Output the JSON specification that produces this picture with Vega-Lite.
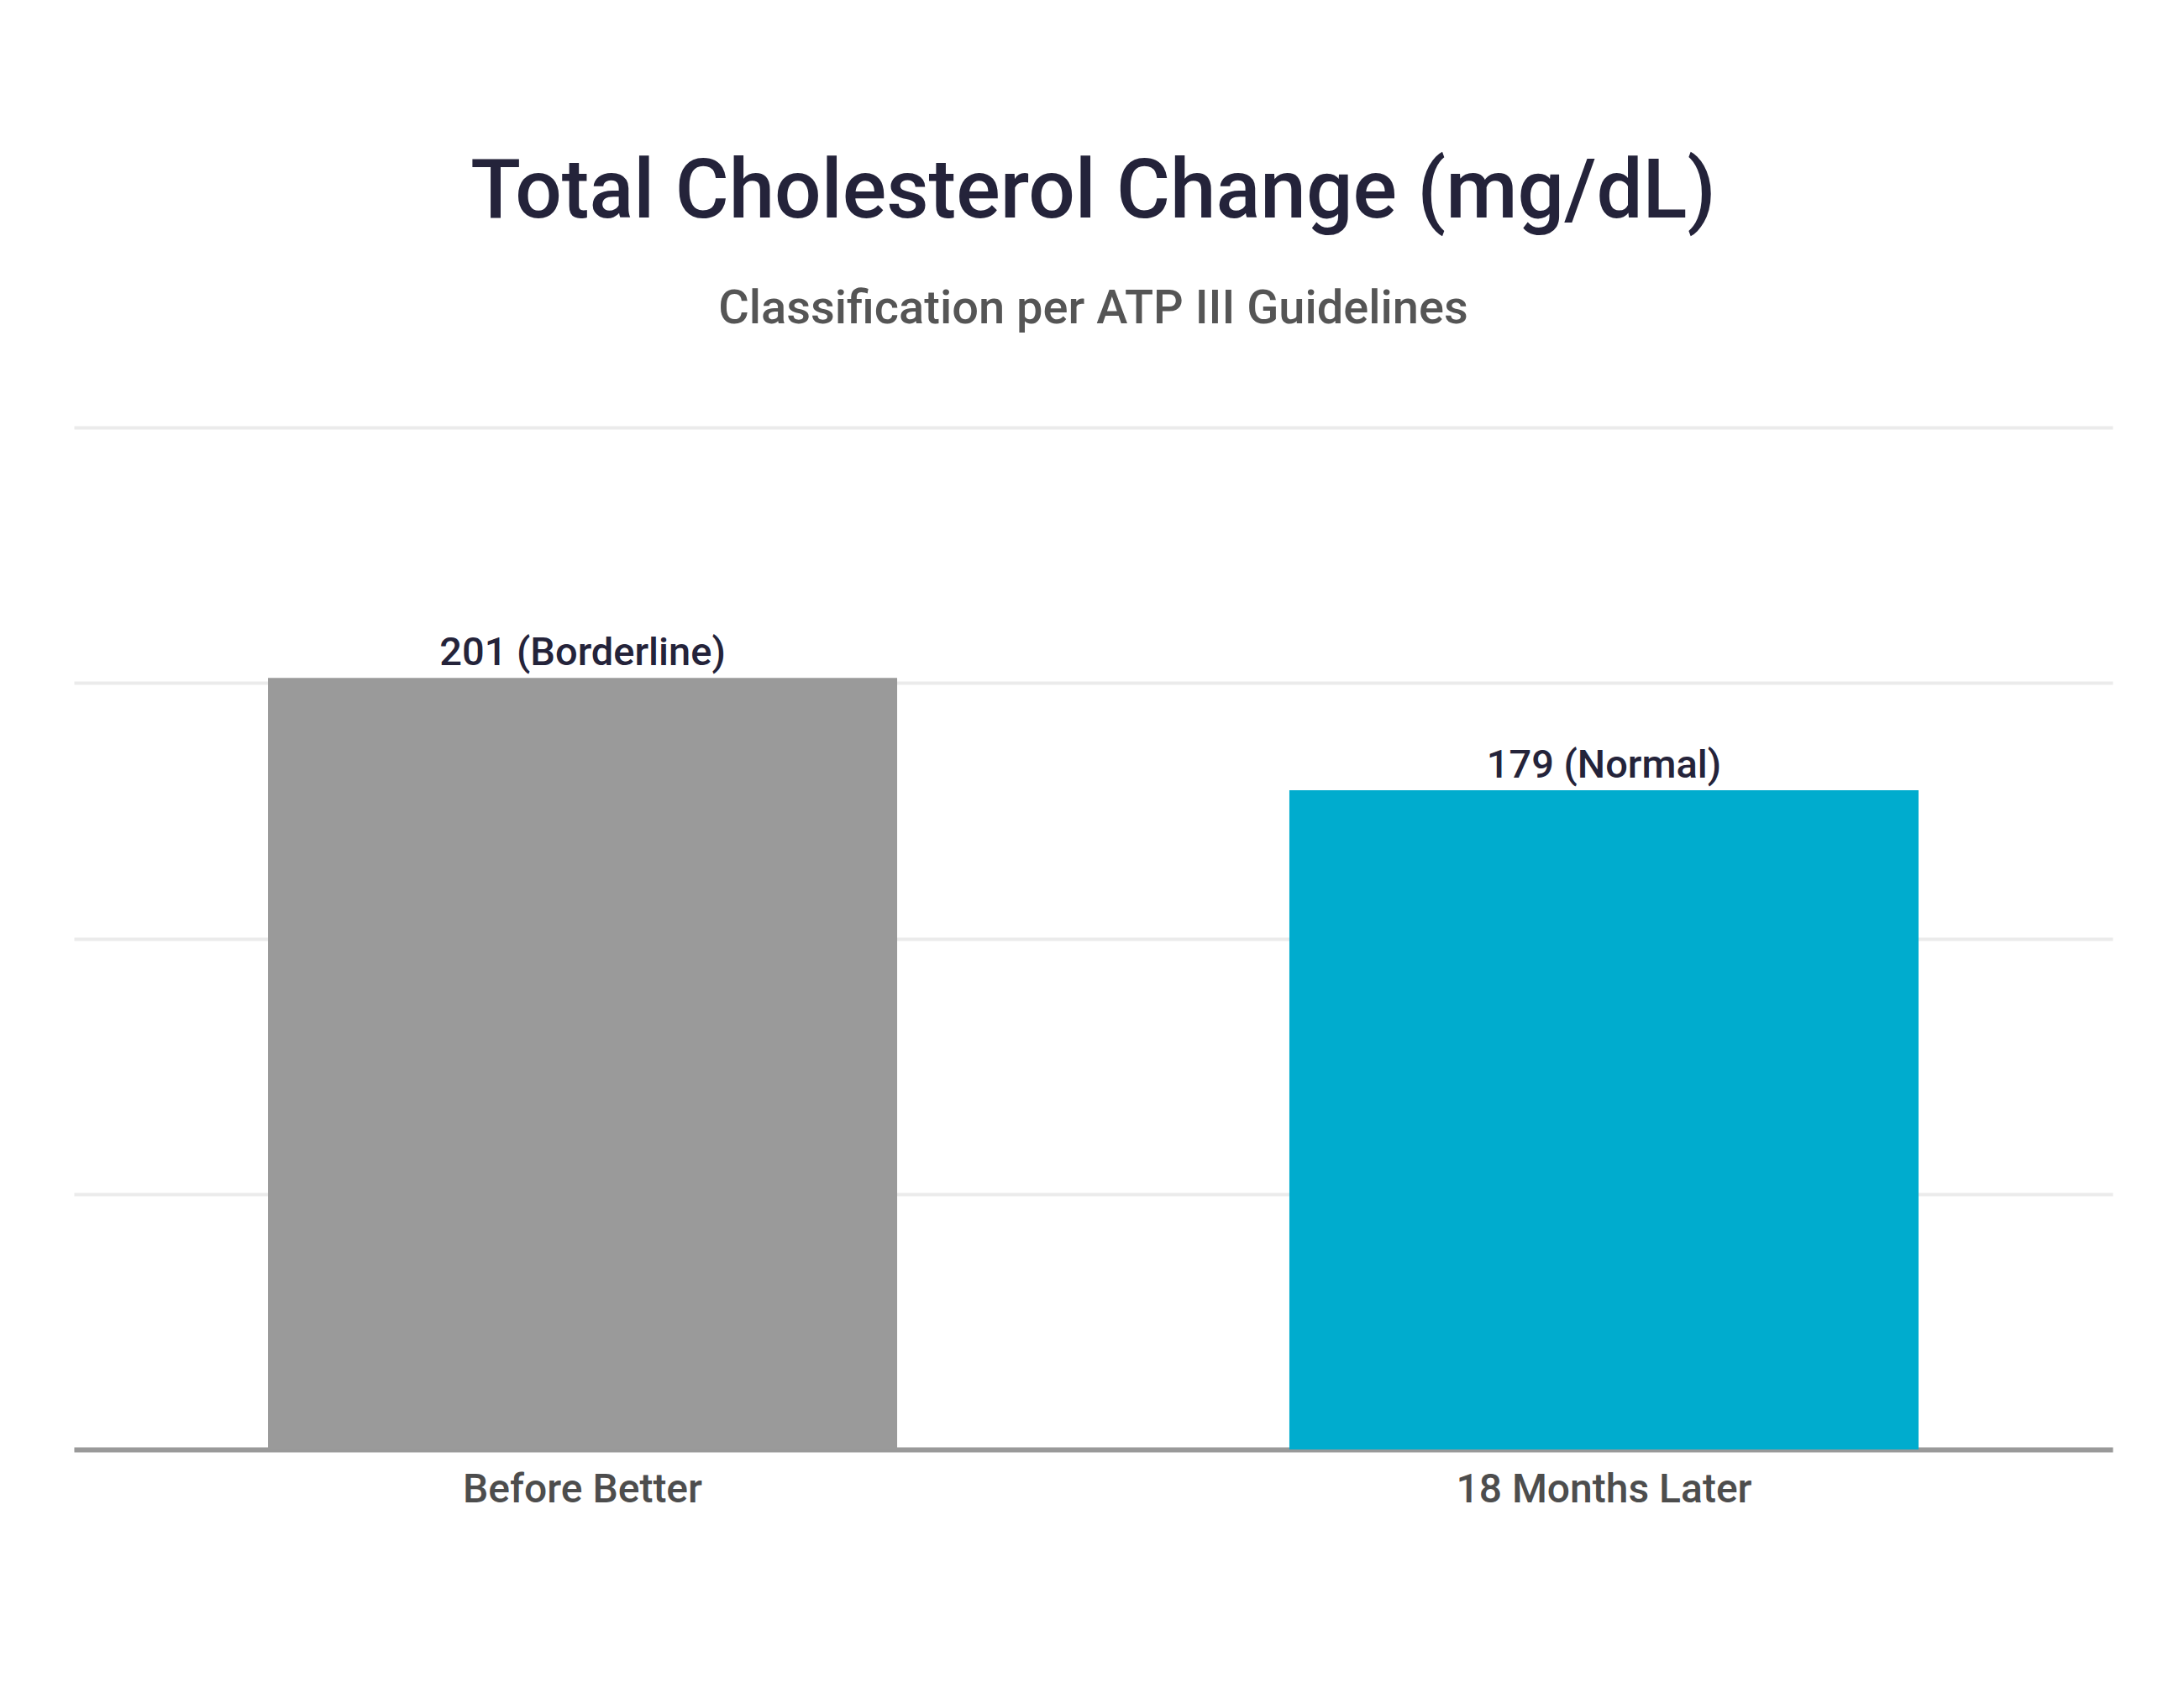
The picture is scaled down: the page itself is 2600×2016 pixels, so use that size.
{
  "$schema": "https://vega.github.io/schema/vega-lite/v6.json",
  "width": 2427,
  "height": 1217,
  "autosize": {"type": "none"},
  "padding": {"top": 509, "left": 88, "right": 85, "bottom": 290},
  "background": "#ffffff",
  "title": {
    "text": "Total Cholesterol Change (mg/dL)",
    "subtitle": "Classification per ATP III Guidelines",
    "anchor": "middle",
    "frame": "group",
    "font": "Roboto",
    "fontSize": 98,
    "fontWeight": 500,
    "color": "#24233a",
    "subtitleFont": "Roboto",
    "subtitleFontSize": 56,
    "subtitleFontWeight": 500,
    "subtitleColor": "#555555",
    "subtitlePadding": 61,
    "offset": 112
  },
  "data": {
    "values": [
      {"period": "Before Better", "value": 201, "label": "201 (Borderline)", "color": "#9a9a9a"},
      {"period": "18 Months Later", "value": 179, "label": "179 (Normal)", "color": "#00acce"}
    ]
  },
  "encoding": {
    "x": {
      "field": "period",
      "type": "nominal",
      "sort": null,
      "scale": {"paddingInner": 0.384, "paddingOuter": 0.19},
      "axis": {
        "title": null,
        "labelAngle": 0,
        "labelFont": "Roboto",
        "labelFontSize": 48,
        "labelFontWeight": 500,
        "labelColor": "#4d4d4d",
        "labelPadding": 24,
        "labelLimit": 0,
        "ticks": false,
        "tickSize": 0,
        "domain": true,
        "domainColor": "#999999",
        "domainWidth": 6,
        "grid": false
      }
    },
    "y": {
      "field": "value",
      "type": "quantitative",
      "scale": {"domain": [50, 250], "zero": false, "nice": false},
      "axis": {
        "title": null,
        "labels": false,
        "ticks": false,
        "domain": false,
        "grid": true,
        "gridColor": "#ebebeb",
        "gridWidth": 4,
        "values": [50, 100, 150, 200, 250]
      }
    }
  },
  "layer": [
    {
      "mark": {"type": "bar"},
      "encoding": {
        "y2": {"datum": 50},
        "color": {"field": "color", "type": "nominal", "scale": null, "legend": null}
      }
    },
    {
      "mark": {
        "type": "text",
        "baseline": "alphabetic",
        "dy": -15,
        "font": "Roboto",
        "fontSize": 47,
        "fontWeight": 500,
        "color": "#24233a"
      },
      "encoding": {
        "text": {"field": "label", "type": "nominal"}
      }
    }
  ],
  "config": {
    "view": {"stroke": null}
  }
}
